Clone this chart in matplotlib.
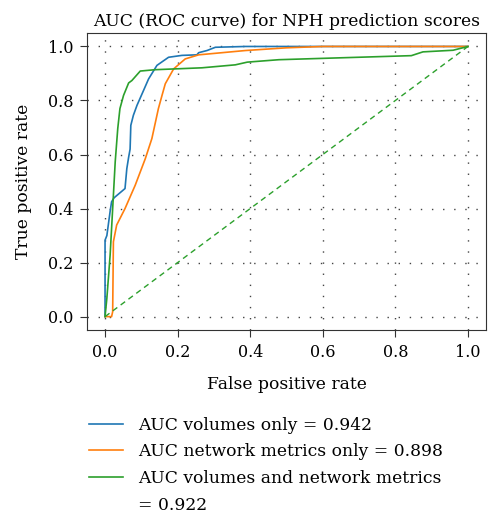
import matplotlib
matplotlib.use("Agg")
import matplotlib.pyplot as plt

plt.rcParams['font.family'] = ['DejaVu Serif']

# ROC curves (fpr, tpr)
vol_fpr = [0.0, 0.0, 0.005, 0.014, 0.018, 0.025, 0.055, 0.06, 0.065, 0.069, 0.071,
           0.078, 0.088, 0.106, 0.12, 0.143, 0.175, 0.212, 0.253, 0.258, 0.281,
           0.304, 0.387, 1.0]
vol_tpr = [0.0, 0.283, 0.30, 0.39, 0.425, 0.44, 0.474, 0.548, 0.59, 0.62, 0.708,
           0.745, 0.782, 0.837, 0.88, 0.93, 0.96, 0.967, 0.969, 0.977, 0.985,
           0.997, 1.0, 1.0]

net_fpr = [0.0, 0.018, 0.021, 0.023, 0.032, 0.055, 0.083, 0.111, 0.129, 0.147,
           0.157, 0.166, 0.189, 0.221, 0.258, 0.387, 0.5, 0.6, 1.0]
net_tpr = [0.0, 0.0, 0.018, 0.277, 0.339, 0.40, 0.486, 0.585, 0.659, 0.77,
           0.819, 0.862, 0.917, 0.954, 0.969, 0.985, 0.995, 1.0, 1.0]

both_fpr = [0.0, 0.005, 0.014, 0.021, 0.028, 0.035, 0.041, 0.051, 0.065, 0.074,
            0.097, 0.138, 0.267, 0.359, 0.392, 0.479, 0.6, 0.844, 0.876, 0.959, 1.0]
both_tpr = [0.0, 0.068, 0.228, 0.40, 0.573, 0.696, 0.77, 0.819, 0.865, 0.874,
            0.909, 0.914, 0.921, 0.932, 0.942, 0.951, 0.956, 0.966, 0.98, 0.986, 1.0]

labels = ['AUC volumes only = 0.942',
          'AUC network metrics only = 0.898',
          'AUC volumes and network metrics']
label_tail = '= 0.922'
colors = ['#1f77b4', '#ff7f0e', '#2ca02c']

fig = plt.figure(figsize=(4.91, 5.15), dpi=100)
ax = fig.add_axes([0.177, 0.359, 0.813, 0.577])

ax.plot(vol_fpr, vol_tpr, color=colors[0], lw=1.2, label=labels[0])
ax.plot(net_fpr, net_tpr, color=colors[1], lw=1.2, label=labels[1])
ax.plot(both_fpr, both_tpr, color=colors[2], lw=1.2, label=labels[2])
ax.plot([0, 1], [0, 1], color=colors[2], lw=1.0, ls='--', dashes=(4, 3))
# empty handle so the wrapped part of the last label gets its own row
ax.plot([], [], color='none', label=label_tail)

ax.set_xticks([0, 0.2, 0.4, 0.6, 0.8, 1.0])
ax.set_yticks([0, 0.2, 0.4, 0.6, 0.8, 1.0])
ax.set_xticklabels(['0.0', '0.2', '0.4', '0.6', '0.8', '1.0'])
ax.set_yticklabels(['0.0', '0.2', '0.4', '0.6', '0.8', '1.0'])
ax.grid(True, ls=(0, (1, 7)), color='#444444', lw=1.0)
ax.tick_params(labelsize=11.5, length=5, color='#333333', pad=5)
for s in ax.spines.values():
    s.set_color('#333333')

ax.set_title('AUC (ROC curve) for NPH prediction scores', fontsize=12.3, pad=5)
ax.set_xlabel('False positive rate', fontsize=12.3, labelpad=11)
ax.set_ylabel('True positive rate', fontsize=12.3, labelpad=11)

fig.legend(loc='upper left', bbox_to_anchor=(0.149, 0.221), frameon=False,
           fontsize=12.3, handlelength=2.0, handletextpad=0.88,
           labelspacing=0.58)

fig.savefig('out.png', dpi=100)
